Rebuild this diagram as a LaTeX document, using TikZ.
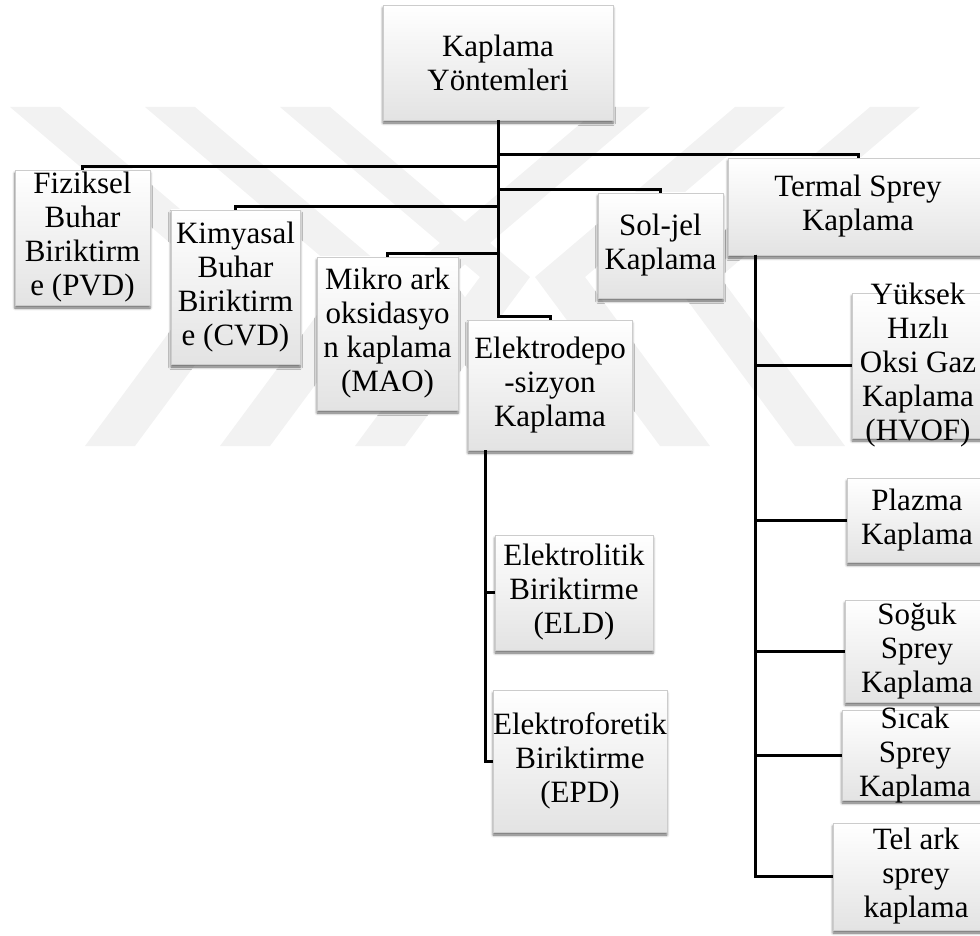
\documentclass[tikz,border=0pt]{standalone}
\usepackage{fontspec}
\setmainfont{Liberation Serif}
\usetikzlibrary{shadows.blur}

\begin{document}
\begin{tikzpicture}[x=1pt, y=-1pt, line width=3pt,
    kutu/.style={rectangle, draw=gray!40, line width=0.6pt, top color=white, bottom color=gray!22,
        align=center, inner sep=0pt, font=\fontsize{31}{34}\selectfont,
        blur shadow={shadow xshift=0pt, shadow yshift=-3pt, shadow blur radius=2.5pt, shadow opacity=60}},
    iz/.style={fill=black!5, draw=none}]
    \clip (0,0) rectangle (980,936);

    % arka plan filigrani
    \foreach \a in {10,145,280} {
        \fill[iz] (\a,107) -- (\a+50,107) -- (\a+250,277) -- (\a+125,446) -- (\a+75,446) -- (\a+200,277) -- cycle;
        \fill[iz] (930-\a,107) -- (880-\a,107) -- (680-\a,277) -- (805-\a,446) -- (855-\a,446) -- (730-\a,277) -- cycle;
    }

    \node[kutu, minimum width=230pt, minimum height=115pt] (kok) at (498,62.5) {Kaplama\\Yöntemleri};

    \node[kutu, minimum width=135pt, minimum height=135pt] (pvd) at (82.5,237.5) {Fiziksel\\Buhar\\Biriktirm\\e (PVD)};
    \node[kutu, minimum width=129pt, minimum height=154pt] (cvd) at (235.5,287) {Kimyasal\\Buhar\\Biriktirm\\e (CVD)};
    \node[kutu, minimum width=141pt, minimum height=153pt] (mao) at (387.5,333.5) {Mikro ark\\oksidasyo\\n kaplama\\(MAO)};
    \node[kutu, minimum width=164pt, minimum height=130pt] (elk) at (550,385) {Elektrodepo\\-sizyon\\Kaplama};
    \node[kutu, minimum width=125pt, minimum height=105pt] (sol) at (660.5,245.5) {Sol-jel\\Kaplama};
    \node[kutu, minimum width=260pt, minimum height=97pt] (tsp) at (858,206.5) {Termal Sprey\\Kaplama};

    \node[kutu, minimum width=158pt, minimum height=115pt] (eld) at (574,592.5) {Elektrolitik\\Biriktirme\\(ELD)};
    \node[kutu, minimum width=172pt, minimum height=142pt] (epd) at (580,761) {Elektroforetik\\Biriktirme\\(EPD)};

    \node[kutu, minimum width=132pt, minimum height=145pt, inner ysep=-12pt] (hvof) at (918,365.5) {Yüksek\\Hızlı\\Oksi Gaz\\Kaplama\\(HVOF)};
    \node[kutu, minimum width=140pt, minimum height=84pt] (plz) at (917,520) {Plazma\\Kaplama};
    \node[kutu, minimum width=144pt, minimum height=102pt] (sgk) at (917,651) {Soğuk\\Sprey\\Kaplama};
    \node[kutu, minimum width=146pt, minimum height=90pt, inner ysep=-3pt] (scs) at (915,755) {Sıcak\\Sprey\\Kaplama};
    \node[kutu, minimum width=166pt, minimum height=107pt] (tel) at (916,876.5) {Tel ark\\sprey\\kaplama};

    \coordinate (tkol) at (755,255);
    \coordinate (ekol) at (485,450);

    \foreach \n in {pvd,cvd,mao,elk,sol,tsp}
        \draw (kok.south) |- ([yshift=3pt]\n.north) -- (\n.north);
    \foreach \n in {eld,epd}
        \draw (ekol) |- (\n.west);
    \foreach \n in {hvof,plz,sgk,scs,tel}
        \draw (tkol) |- (\n.west);
\end{tikzpicture}
\end{document}
